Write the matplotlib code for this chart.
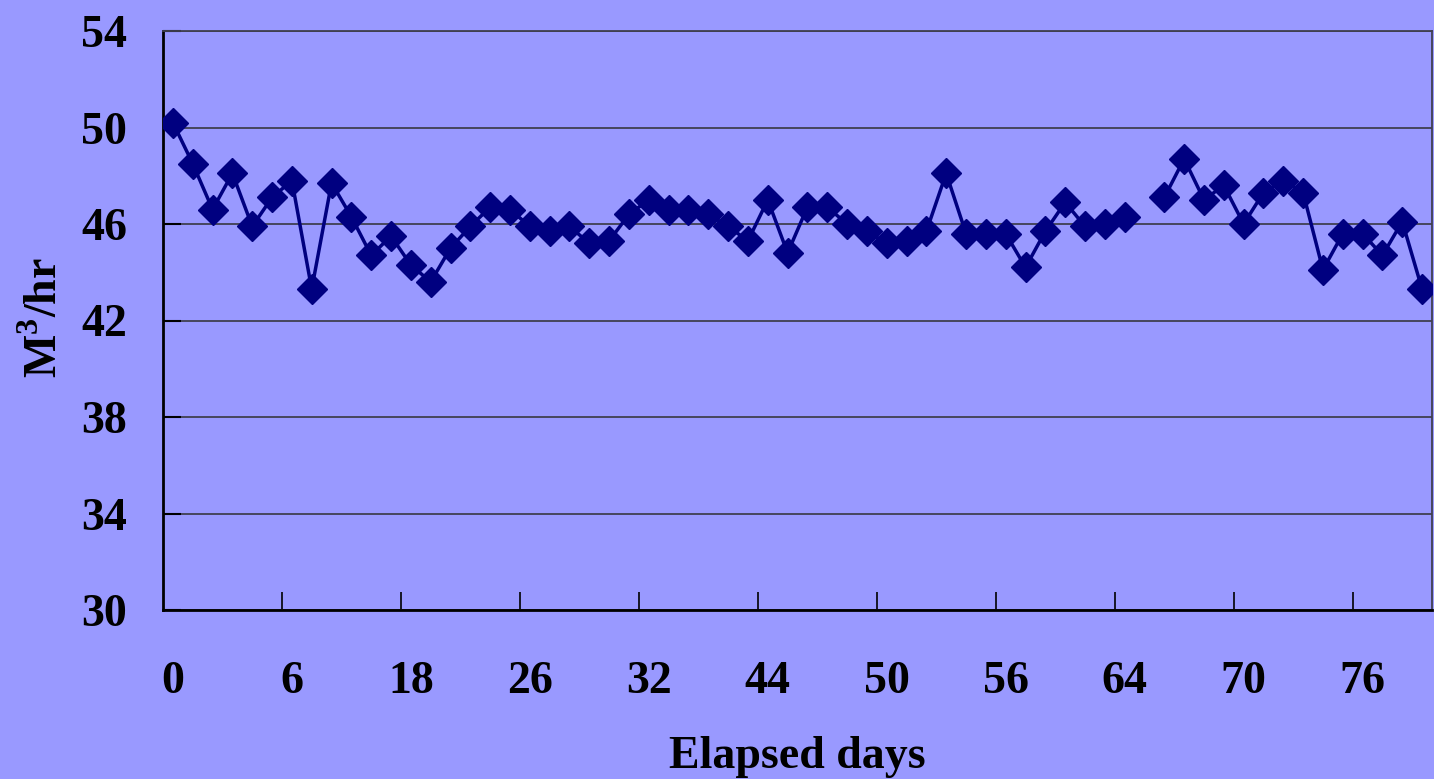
import numpy as np
import matplotlib
matplotlib.use('Agg')
import matplotlib.pyplot as plt
from matplotlib.ticker import FixedLocator

# flow readings, one per sample (index 49 missing)
flow = [50.2, 48.5, 46.6, 48.1, 45.9, 47.1, 47.8, 43.3, 47.7, 46.3,
        44.7, 45.5, 44.3, 43.6, 45.0, 45.9, 46.7, 46.6, 45.9, 45.7,
        45.9, 45.2, 45.3, 46.4, 47.0, 46.6, 46.6, 46.4, 45.9, 45.3,
        47.0, 44.8, 46.7, 46.7, 46.0, 45.7, 45.2, 45.3, 45.7, 48.1,
        45.6, 45.6, 45.6, 44.2, 45.7, 46.9, 45.9, 46.0, 46.3, np.nan,
        47.1, 48.7, 47.0, 47.6, 46.0, 47.3, 47.8, 47.3, 44.1, 45.6,
        45.6, 44.7, 46.1, 43.3]
day_labels = ['0', '6', '18', '26', '32', '44', '50', '56', '64', '70', '76']
y_ticks = [30, 34, 38, 42, 46, 50, 54]

bg = '#9999FF'
navy = '#000080'

plt.rcParams['font.family'] = ['Liberation Serif', 'DejaVu Serif']
plt.rcParams['font.weight'] = 'bold'
plt.rcParams['mathtext.fontset'] = 'custom'
plt.rcParams['mathtext.rm'] = 'Liberation Serif:bold'
plt.rcParams['mathtext.bf'] = 'Liberation Serif:bold'

fig = plt.figure(figsize=(14.34, 7.79), dpi=100, facecolor=bg)
ax = fig.add_axes([163 / 1434, 1 - 610 / 779, (1432 - 163) / 1434, (610 - 31) / 779])
ax.set_facecolor(bg)

x = np.arange(len(flow))
ax.plot(x, flow, color=navy, lw=2.5, marker='D', markersize=15,
        markerfacecolor=navy, markeredgecolor=navy, zorder=3)

ax.set_xlim(-0.5, len(flow) - 0.5)
ax.set_ylim(30, 54)

# y axis
ax.set_yticks(y_ticks)
ax.set_yticklabels([str(v) for v in y_ticks], fontsize=33, fontweight='bold')
ax.tick_params(axis='y', direction='in', length=13, width=1.5, pad=26)
ax.grid(axis='y', color='#404050', lw=1.3, zorder=1)

# x axis: tick marks between groups of 6, labels centred on categories
ax.xaxis.set_major_locator(FixedLocator(np.arange(5.5, len(flow) - 1, 6)))
ax.xaxis.set_major_formatter(plt.NullFormatter())
ax.xaxis.set_minor_locator(FixedLocator(np.arange(0, len(flow), 6)[:len(day_labels)]))
ax.set_xticklabels(day_labels, minor=True, fontsize=33, fontweight='bold')
ax.tick_params(axis='x', which='major', direction='in', length=13, width=1.2)
ax.tick_params(axis='x', which='minor', length=0, pad=37)

for s in ['left', 'bottom']:
    ax.spines[s].set_color('black')
    ax.spines[s].set_linewidth(2)
for s in ['top', 'right']:
    ax.spines[s].set_color('#404050')
    ax.spines[s].set_linewidth(1.3)

fig.text(797 / 1434, 1 - 757 / 779, 'Elapsed days', ha='center', va='center',
         fontsize=33, fontweight='bold')
fig.text(45 / 1434, 1 - 318 / 779, r'M$^{3}$/hr', ha='center', va='center',
         rotation=90, fontsize=33, fontweight='bold')

fig.savefig('out.png', dpi=100, facecolor=bg)
